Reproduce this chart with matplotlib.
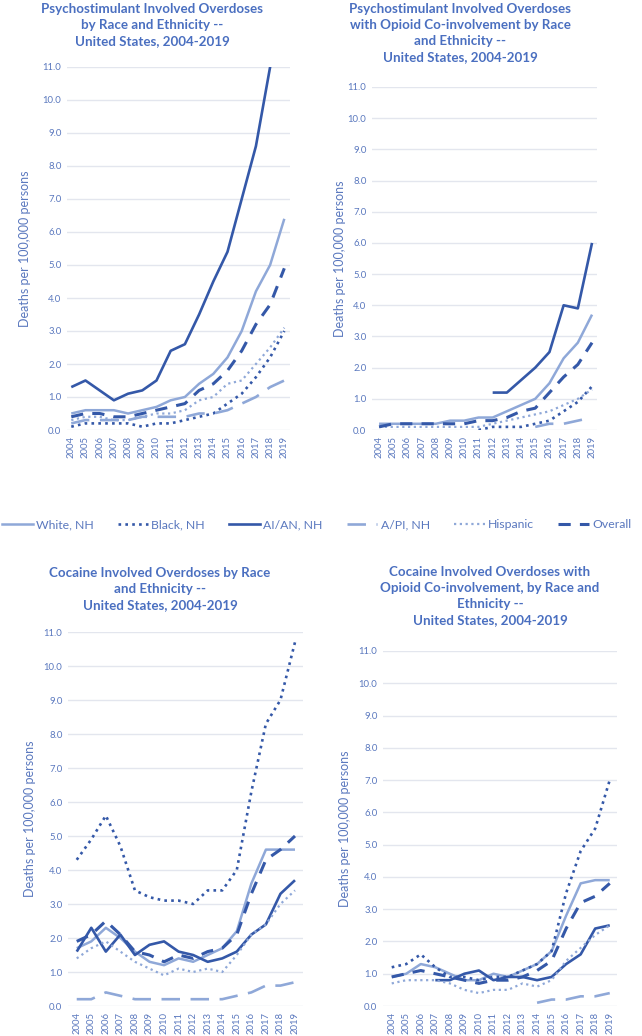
import numpy as np
import matplotlib
matplotlib.use("Agg")
import matplotlib.pyplot as plt
from matplotlib.lines import Line2D

nan = np.nan
years = [str(y) for y in range(2004, 2020)]
groups = ["White, NH", "Black, NH", "AI/AN, NH", "A/PI, NH", "Hispanic", "Overall"]

# Psychostimulant involved overdoses
psy_white = [0.5, 0.6, 0.6, 0.6, 0.5, 0.6, 0.7, 0.9, 1.0, 1.4, 1.7, 2.2, 3.0, 4.2, 5.0, 6.4]
psy_black = [0.1, 0.2, 0.2, 0.2, 0.2, 0.1, 0.2, 0.2, 0.3, 0.4, 0.5, 0.8, 1.1, 1.6, 2.2, 3.0]
psy_aian = [1.3, 1.5, 1.2, 0.9, 1.1, 1.2, 1.5, 2.4, 2.6, 3.5, 4.5, 5.4, 7.0, 8.6, 11.0, 13.6]
psy_api = [0.2, 0.3, 0.3, 0.3, 0.3, 0.4, 0.4, 0.4, 0.4, 0.5, 0.5, 0.6, 0.8, 1.0, 1.3, 1.5]
psy_hisp = [0.3, 0.4, 0.4, 0.3, 0.3, 0.4, 0.5, 0.5, 0.6, 0.9, 1.0, 1.4, 1.5, 2.0, 2.5, 3.1]
psy_all = [0.4, 0.5, 0.5, 0.4, 0.4, 0.5, 0.6, 0.7, 0.8, 1.2, 1.4, 1.8, 2.4, 3.2, 3.8, 4.9]

# Psychostimulant involved overdoses with opioid co-involvement
psyop_white = [0.2, 0.2, 0.2, 0.2, 0.2, 0.3, 0.3, 0.4, 0.4, 0.6, 0.8, 1.0, 1.5, 2.3, 2.8, 3.7]
psyop_black = [nan, nan, nan, nan, nan, nan, nan, 0.0, 0.1, 0.1, 0.1, 0.2, 0.3, 0.6, 0.9, 1.4]
psyop_aian = [nan, nan, nan, nan, nan, nan, nan, nan, 1.2, 1.2, 1.6, 2.0, 2.5, 4.0, 3.9, 6.0]
psyop_api = [nan, nan, nan, nan, nan, nan, nan, nan, nan, nan, nan, 0.1, 0.2, 0.2, 0.3, 0.4]
psyop_hisp = [0.1, 0.1, 0.1, 0.1, 0.1, 0.1, 0.1, 0.1, 0.2, 0.3, 0.4, 0.5, 0.6, 0.8, 1.0, 1.3]
psyop_all = [0.1, 0.2, 0.2, 0.2, 0.2, 0.2, 0.2, 0.3, 0.3, 0.4, 0.6, 0.7, 1.2, 1.7, 2.1, 2.8]

# Cocaine involved overdoses
coc_white = [1.7, 1.9, 2.3, 2.0, 1.6, 1.3, 1.2, 1.4, 1.3, 1.5, 1.7, 2.2, 3.6, 4.6, 4.6, 4.6]
coc_black = [4.3, 4.9, 5.6, 4.7, 3.4, 3.2, 3.1, 3.1, 3.0, 3.4, 3.4, 4.0, 6.3, 8.3, 9.0, 10.7]
coc_aian = [1.6, 2.3, 1.6, 2.1, 1.5, 1.8, 1.9, 1.6, 1.5, 1.3, 1.4, 1.6, 2.1, 2.4, 3.3, 3.7]
coc_api = [0.2, 0.2, 0.4, 0.3, 0.2, 0.2, 0.2, 0.2, 0.2, 0.2, 0.2, 0.3, 0.4, 0.6, 0.6, 0.7]
coc_hisp = [1.4, 1.7, 1.9, 1.6, 1.3, 1.1, 0.9, 1.1, 1.0, 1.1, 1.0, 1.5, 2.1, 2.4, 3.0, 3.4]
coc_all = [1.9, 2.1, 2.5, 2.1, 1.6, 1.5, 1.3, 1.5, 1.4, 1.6, 1.7, 2.1, 3.3, 4.3, 4.6, 5.0]

# Cocaine involved overdoses with opioid co-involvement
cocop_white = [0.9, 1.0, 1.3, 1.2, 1.0, 0.8, 0.8, 1.0, 0.9, 1.1, 1.3, 1.7, 2.8, 3.8, 3.9, 3.9]
cocop_black = [1.2, 1.3, 1.6, 1.2, 0.9, 0.9, 0.8, 0.9, 0.9, 1.1, 1.3, 1.7, 3.5, 4.8, 5.5, 7.0]
cocop_aian = [nan, nan, nan, 0.8, 0.8, 1.0, 1.1, 0.8, 0.9, 0.9, 0.8, 0.9, 1.3, 1.6, 2.4, 2.5]
cocop_api = [nan, nan, nan, nan, nan, nan, nan, nan, nan, nan, 0.1, 0.2, 0.2, 0.3, 0.3, 0.4]
cocop_hisp = [0.7, 0.8, 0.8, 0.8, 0.7, 0.5, 0.4, 0.5, 0.5, 0.7, 0.6, 0.8, 1.4, 1.8, 2.2, 2.5]
cocop_all = [0.9, 1.0, 1.1, 1.0, 0.9, 0.8, 0.7, 0.8, 0.8, 0.9, 1.1, 1.4, 2.4, 3.2, 3.4, 3.8]

titles = [
    "Psychostimulant Involved Overdoses\nby Race and Ethnicity --\nUnited States, 2004-2019",
    "Psychostimulant Involved Overdoses\nwith Opioid Co-involvement by Race\nand Ethnicity --\nUnited States, 2004-2019",
    "Cocaine Involved Overdoses by Race\nand Ethnicity --\nUnited States, 2004-2019",
    "Cocaine Involved Overdoses with\nOpioid Co-involvement, by Race and\nEthnicity --\nUnited States, 2004-2019",
]
yticks = [i * 1.0 for i in range(12)]

DARK = "#3458A8"
LIGHT = "#8FA8D8"
TEXT = "#5A78BE"
TITLE = "#4A6FC0"
GRID = "#E3E6EE"

styles = {
    "White, NH": dict(color=LIGHT, lw=1.8, ls="-"),
    "Black, NH": dict(color=DARK, lw=1.9, ls=(0, (1, 1.6))),
    "AI/AN, NH": dict(color=DARK, lw=1.9, ls="-"),
    "A/PI, NH": dict(color=LIGHT, lw=1.9, ls=(0, (7, 4))),
    "Hispanic": dict(color=LIGHT, lw=1.6, ls=(0, (1, 1.6))),
    "Overall": dict(color=DARK, lw=2.2, ls=(0, (4, 3))),
}

panels = [
    [psy_white, psy_black, psy_aian, psy_api, psy_hisp, psy_all],
    [psyop_white, psyop_black, psyop_aian, psyop_api, psyop_hisp, psyop_all],
    [coc_white, coc_black, coc_aian, coc_api, coc_hisp, coc_all],
    [cocop_white, cocop_black, cocop_aian, cocop_api, cocop_hisp, cocop_all],
]

W, H = 642, 1036
fig = plt.figure(figsize=(W / 100, H / 100), dpi=100)
plt.rcParams["font.family"] = ["Lato", "DejaVu Sans"]


def rect(left, right, top, bottom):
    return [left / W, 1 - bottom / H, (right - left) / W, (bottom - top) / H]

# axes boxes in pixels: left, right, top (11.0 line), bottom (0.0 line), xlim
layout = [
    (67, 290, 67, 430, (-0.3, 15.4)),
    (372, 597, 87, 430, (-0.5, 15.35)),
    (68, 303, 632, 1006, (-0.6, 15.55)),
    (383, 617, 651, 1006, (-0.6, 15.5)),
]
title_pos = [(152, 3), (460, 3), (160, 567), (490, 566)]
ylabel_x = [25, 340, 30, 345]

x = np.arange(len(years))
for i, (series, (l, r, t, b, xl)) in enumerate(zip(panels, layout)):
    ax = fig.add_axes(rect(l, r, t, b))
    for name, vals in zip(groups, series):
        ax.plot(x, vals, **styles[name], solid_capstyle="butt", dash_capstyle="butt")
    ax.set_xlim(*xl)
    ax.set_ylim(0, 11)
    ax.set_yticks(yticks)
    ax.set_yticklabels([f"{v:.1f}" for v in yticks], fontsize=6.8, color=TEXT)
    ax.set_xticks(x)
    ax.set_xticklabels(years, rotation=90, fontsize=6.8, color=TEXT)
    ax.tick_params(length=0, pad=4)
    ax.grid(axis="y", color=GRID, lw=1)
    ax.set_axisbelow(True)
    for s in ax.spines.values():
        s.set_visible(False)
    tx, ty = title_pos[i]
    fig.text(tx / W, 1 - ty / H, titles[i], ha="center", va="top",
             fontsize=9.6, fontweight="bold", color=TITLE, linespacing=1.4)
    fig.text(ylabel_x[i] / W, 1 - ((t + b) / 2) / H, "Deaths per 100,000 persons",
             rotation=90, ha="center", va="center", fontsize=9, color=TEXT)

handles = [Line2D([0], [0], **styles[g]) for g in groups]
fig.legend(handles, groups, loc="center", bbox_to_anchor=(0.493, 1 - 525 / H),
           ncol=6, frameon=False, fontsize=8.8, labelcolor=TEXT,
           handlelength=2.5, columnspacing=2.0, handletextpad=0.25)

fig.savefig("out.png", dpi=100, facecolor="white")
